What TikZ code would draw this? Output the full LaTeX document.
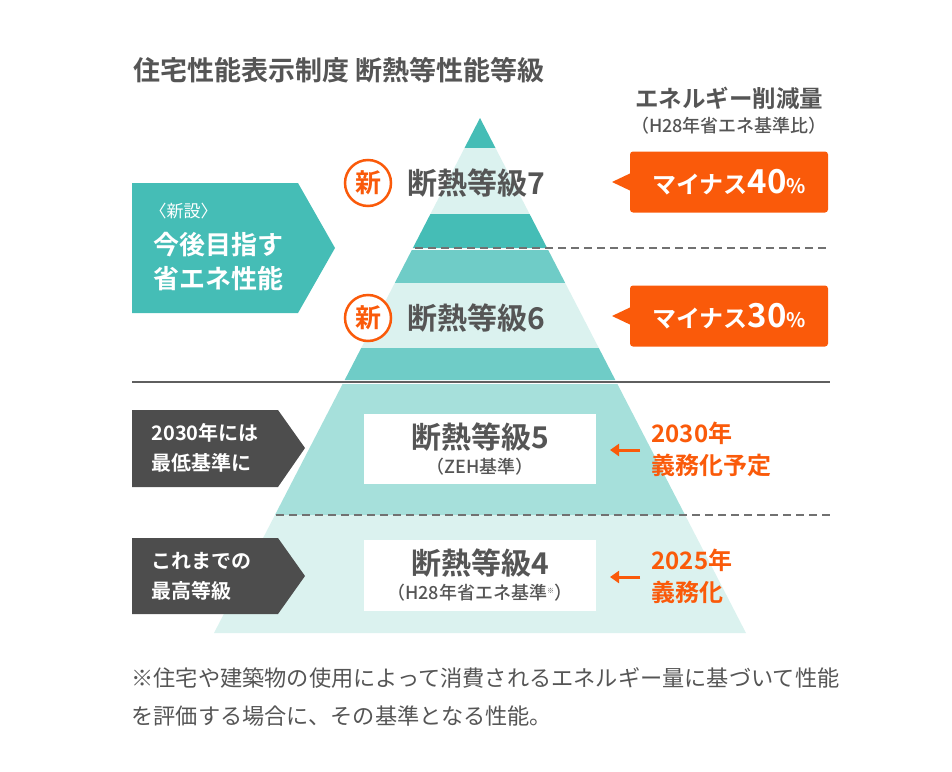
\documentclass[tikz,border=0pt]{standalone}
\usepackage{fontspec}
\usetikzlibrary{arrows.meta}
\setmainfont{Noto Sans CJK JP}
\newfontfamily\jpb{Noto Sans CJK JP Bold}
\newfontfamily\jpm{Noto Sans CJK JP Medium}
\definecolor{tealA}{HTML}{45BDB6}
\definecolor{tealB}{HTML}{6FCCC7}
\definecolor{tealC}{HTML}{A6E0DB}
\definecolor{pale}{HTML}{DBF2EF}
\definecolor{ora}{HTML}{FA5A0A}
\definecolor{dk}{HTML}{4D4D4D}
\definecolor{txt}{HTML}{555555}
\begin{document}
\begin{tikzpicture}[x=1pt,y=-1pt,
 grade/.style={font=\jpb\fontsize{30}{32}\selectfont,text=txt},
 sub/.style={font=\jpm\fontsize{18}{20}\selectfont,text=txt},
 ltext/.style={font=\jpb\fontsize{20}{30}\selectfont,text=white,align=left,anchor=west},
 otext/.style={font=\jpb\fontsize{24}{32}\selectfont,text=ora,align=left,anchor=west},
 wbox/.style={fill=white,draw=none,minimum width=232pt},
 obox/.style={fill=ora,rounded corners=3pt},
 shin/.style={circle,draw=ora,line width=2.5pt,fill=white,minimum size=46pt,inner sep=0,text=ora,font=\jpb\fontsize{26}{27}\selectfont},
 dline/.style={draw=dk!80,line width=1.5pt,dash pattern=on 8pt off 5pt}]
\useasboundingbox (0,0) rectangle (952,771);
\foreach \ya/\yb/\c in {118/148/tealA,148/214/pale,214/248/tealA,250/283/tealB,283/348/pale,348/380/tealB,384/515/tealC,515/633/pale}{
 \pgfmathsetmacro\wa{0.5165*(\ya-118)}\pgfmathsetmacro\wb{0.5165*(\yb-118)}
 \fill[\c] (480-\wa,\ya) -- (480+\wa,\ya) -- (480+\wb,\yb) -- (480-\wb,\yb) -- cycle;}
\draw[dline] (415,248) -- (830,248);
\draw[dline] (276,515) -- (830,515);
\draw[dk!90,line width=1.5pt] (132,382) -- (830,382);
\node[anchor=west,font=\jpb\fontsize{27}{30}\selectfont,text=txt] (title) at (130,70) {住宅性能表示制度 断熱等性能等級};
\node[font=\jpb\fontsize{23.5}{26}\selectfont,text=txt] (hdr) at (729,98) {エネルギー削減量};
\node[sub] (hdr2) at (729,126) {（H28年省エネ基準比）};
\node[grade,anchor=west] (g7) at (404,183) {断熱等級7};
\node[grade,anchor=west] (g6) at (404,318) {断熱等級6};
\node[shin] (n7) at (368,183) {新};
\node[shin] (n6) at (368,318) {新};
\node[wbox,minimum height=70pt] (b5) at (480,449) {};
\node[grade] (g5) at (480,437) {断熱等級5};
\node[sub] (s5) at (480,467) {（ZEH基準）};
\node[wbox,minimum height=71pt] (b4) at (480,575) {};
\node[grade] (g4) at (480,563) {断熱等級4};
\node[sub] (s4) at (480,593) {（H28年省エネ基準\textsuperscript{\scriptsize ※}）};
\fill[tealA] (132,183) -- (298,183) -- (335,248) -- (298,313) -- (132,313) -- cycle;
\node[ltext,font=\fontsize{17}{20}\selectfont] (l1a) at (146,211) {〈新設〉};
\node[ltext,font=\jpb\fontsize{26}{34}\selectfont] (l1) at (150,262) {今後目指す\\省エネ性能};
\fill[dk] (132,410) -- (278,410) -- (305,448) -- (278,487) -- (132,487) -- cycle;
\node[ltext] (l2) at (148,448) {2030年には\\最低基準に};
\fill[dk] (132,538) -- (278,538) -- (305,576) -- (278,614) -- (132,614) -- cycle;
\node[ltext] (l3) at (148,576) {これまでの\\最高等級};
\fill[ora] (612,182) -- (631,173) -- (631,191) -- cycle;
\node[obox,minimum width=198pt,minimum height=61pt] (o7) at (729,182) {};
\node[text=white,font=\jpb] at (o7) {\fontsize{24}{26}\selectfont マイナス\fontsize{33}{34}\selectfont 40\fontsize{20}{22}\selectfont\%};
\fill[ora] (612,316) -- (631,307) -- (631,325) -- cycle;
\node[obox,minimum width=198pt,minimum height=61pt] (o6) at (729,316) {};
\node[text=white,font=\jpb] at (o6) {\fontsize{24}{26}\selectfont マイナス\fontsize{33}{34}\selectfont 30\fontsize{20}{22}\selectfont\%};
\node[otext] (r5) at (648,449) {2030年\\義務化予定};
\node[otext] (r4) at (648,576) {2025年\\義務化};
\draw[ora,line width=3pt,-{Triangle[length=9pt,width=12pt]}] (640,450) -- (610,450);
\draw[ora,line width=3pt,-{Triangle[length=9pt,width=12pt]}] (640,577) -- (610,577);
\node[anchor=west,font=\fontsize{22.2}{24}\selectfont,text=txt] (fn1) at (128,678) {※住宅や建築物の使用によって消費されるエネルギー量に基づいて性能};
\node[anchor=west,font=\fontsize{22.2}{24}\selectfont,text=txt] (fn2) at (128,716) {を評価する場合に、その基準となる性能。};
\end{tikzpicture}
\end{document}
